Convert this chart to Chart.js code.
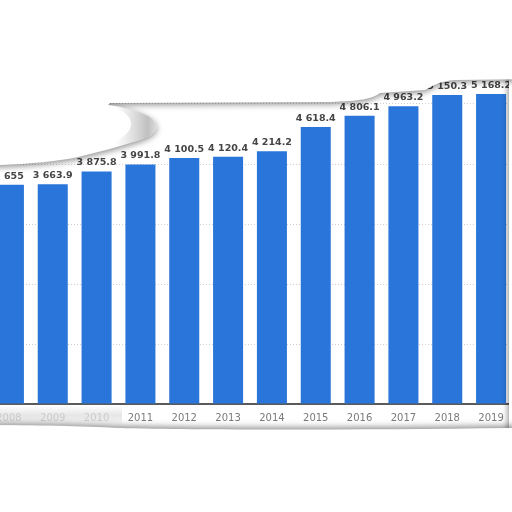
<!DOCTYPE html>
<html>
<head>
<meta charset="utf-8">
<script src="https://cdn.jsdelivr.net/npm/chart.js@4/dist/chart.umd.min.js"></script>
<style>
  html, body { margin: 0; padding: 0; background: #fff; }
  #wrap { position: relative; width: 512px; height: 512px; overflow: hidden; }
  #barChart { position: absolute; left: -20px; top: 0; }
</style>
</head>
<body>
<div id="wrap"><canvas id="barChart" width="540" height="512"></canvas></div>
<script>
const years = ['2008', '2009', '2010', '2011', '2012', '2013', '2014', '2015', '2016', '2017', '2018', '2019'];
const values = [3655, 3663.9, 3875.8, 3991.8, 4100.5, 4120.4, 4214.2, 4618.4, 4806.1, 4963.2, 5150.3, 5168.2];
const yTicks = [0, 1000, 2000, 3000, 4000, 5000, 6000];

function formatValue(v) {
    const parts = String(v).split('.');
    const intPart = parts[0].replace(/\B(?=(\d{3})+(?!\d))/g, ' ');
    return parts.length > 1 ? intPart + '.' + parts[1] : intPart;
}

// value labels above the bars
const valueLabels = {
    id: 'valueLabels',
    afterDatasetsDraw(chart) {
        const ctx = chart.ctx;
        const meta = chart.getDatasetMeta(0);
        ctx.save();
        ctx.font = "bold 9.5px 'DejaVu Sans', sans-serif";
        ctx.fillStyle = '#454545';
        ctx.textAlign = 'center';
        ctx.textBaseline = 'alphabetic';
        meta.data.forEach(function(bar, i) {
            ctx.fillText(formatValue(values[i]), bar.x, bar.y - 6);
        });
        ctx.restore();
    }
};

// torn paper look round the chart
const tornPaper = {
    id: 'tornPaper',
    afterDraw(chart) {
        const ctx = chart.ctx;
        const off = 20; // canvas is shifted left by 20px
        ctx.save();
        ctx.translate(off, 0);
        ctx.fillStyle = '#fff';
        ctx.shadowColor = 'rgba(0,0,0,0.45)';
        ctx.shadowBlur = 6;

        // right edge
        ctx.shadowOffsetX = -1;
        ctx.fillRect(509, 70, 40, 370);
        ctx.shadowOffsetX = 0;

        // top edge with curl
        ctx.shadowOffsetY = 2;
        ctx.beginPath();
        ctx.moveTo(-off, 0);
        ctx.lineTo(-off, 165);
        ctx.lineTo(0, 165);
        ctx.bezierCurveTo(30, 164, 60, 161, 78, 157);
        ctx.bezierCurveTo(100, 152, 120, 146, 140, 140);
        ctx.bezierCurveTo(170, 130, 160, 112, 108, 105);
        ctx.lineTo(110, 103);
        ctx.lineTo(330, 102);
        ctx.bezierCurveTo(360, 101, 372, 99, 380, 93);
        ctx.lineTo(425, 90);
        ctx.bezierCurveTo(432, 86, 440, 81, 455, 80);
        ctx.lineTo(540, 79);
        ctx.lineTo(540, 0);
        ctx.closePath();
        ctx.fill();

        // grey shading inside the curl
        ctx.shadowColor = 'rgba(0,0,0,0)';
        ctx.beginPath();
        ctx.moveTo(100, 148);
        ctx.bezierCurveTo(120, 146, 130, 143, 140, 140);
        ctx.bezierCurveTo(170, 130, 160, 112, 108, 105);
        ctx.bezierCurveTo(140, 115, 140, 135, 100, 148);
        ctx.closePath();
        const cg = ctx.createLinearGradient(115, 0, 162, 0);
        cg.addColorStop(0, 'rgba(190,190,190,0)');
        cg.addColorStop(0.7, 'rgba(175,175,175,0.8)');
        cg.addColorStop(1, 'rgba(200,200,200,0.4)');
        ctx.fillStyle = cg;
        ctx.fill();

        // bottom edge
        ctx.fillStyle = '#fff';
        ctx.shadowColor = 'rgba(0,0,0,0.45)';
        ctx.shadowOffsetY = -2;
        ctx.beginPath();
        ctx.moveTo(-off, 512);
        ctx.lineTo(-off, 425);
        ctx.bezierCurveTo(40, 425, 80, 426, 120, 428);
        ctx.bezierCurveTo(200, 430, 350, 430, 512, 428);
        ctx.lineTo(540, 428);
        ctx.lineTo(540, 512);
        ctx.closePath();
        ctx.fill();

        // soft grey fold over the first labels
        ctx.shadowColor = 'rgba(0,0,0,0)';
        const g = ctx.createLinearGradient(0, 405, 0, 426);
        g.addColorStop(0, 'rgba(200,200,200,0)');
        g.addColorStop(0.5, 'rgba(200,200,200,0.45)');
        g.addColorStop(1, 'rgba(200,200,200,0.1)');
        ctx.fillStyle = g;
        ctx.fillRect(0, 406, 122, 20);
        ctx.restore();
    }
};

const ctx = document.getElementById('barChart').getContext('2d');
const barChart = new Chart(ctx, {
    type: 'bar',
    data: {
        labels: years,
        datasets: [{
            label: 'Value',
            data: values,
            backgroundColor: '#2a75d9',
            barPercentage: 0.685,
            categoryPercentage: 1.0
        }]
    },
    options: {
        responsive: false,
        animation: false,
        layout: {
            padding: { left: 7, right: 7, top: 44, bottom: 80 }
        },
        plugins: {
            legend: { display: false },
            title: { display: false },
            tooltip: { enabled: false }
        },
        scales: {
            x: {
                grid: { display: false, drawTicks: false },
                border: { display: true, color: '#5a5a5a', width: 2 },
                ticks: {
                    padding: 8,
                    color: function(c) { return c.index < 3 ? '#cfcfcf' : '#7a7a7a'; },
                    font: { size: 10, family: "'DejaVu Sans', sans-serif" }
                }
            },
            y: {
                min: yTicks[0],
                max: yTicks[yTicks.length - 1],
                afterBuildTicks: function(axis) {
                    axis.ticks = yTicks.map(function(v) { return { value: v }; });
                },
                ticks: { display: false },
                border: { display: false, dash: [1, 2] },
                grid: {
                    drawTicks: false,
                    color: function(c) {
                        const v = c.tick ? c.tick.value : null;
                        return (v === 0 || v === 6000) ? 'rgba(0,0,0,0)' : '#cfcfcf';
                    },
                    lineWidth: 1
                }
            }
        }
    },
    plugins: [valueLabels, tornPaper]
});
</script>
</body>
</html>
